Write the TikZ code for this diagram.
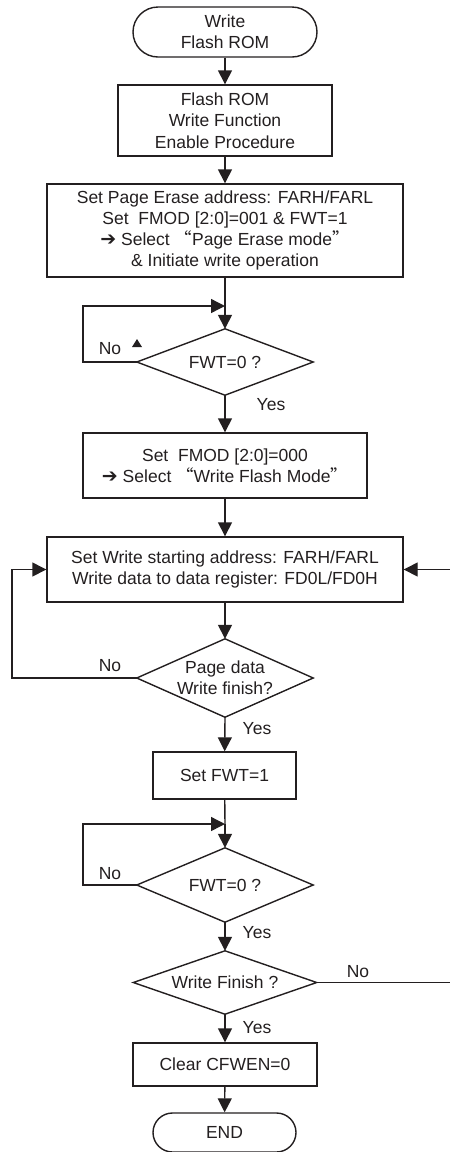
\documentclass[tikz,border=0pt]{standalone}
\usepackage{fontspec}
\setmainfont{Liberation Sans}
\newfontfamily\cjkq{Noto Sans CJK SC}
\newfontfamily\symb{DejaVu Sans}
\usetikzlibrary{arrows.meta}
\definecolor{ink}{HTML}{231F20}
\newcommand{\openq}{{\cjkq “}}
\newcommand{\closeq}{{\cjkq ”}}
\newcommand{\selarrow}{{\symb\fontsize{19}{19}\selectfont ➔}}
\begin{document}
\begin{tikzpicture}[x=1pt,y=-1pt,
  every node/.style={font=\fontsize{17.5}{21.3}\selectfont, text=ink, align=center, inner sep=0pt},
  line/.style={draw=ink, line width=1.4pt},
  arr/.style={line, -{Triangle[length=14pt,width=14pt]}},
  proc/.style={line, rectangle, minimum width=#1},
  term/.style={line, rectangle, rounded corners=#1, minimum height=2*#1},
  decision/.style={rectangle, minimum width=#1}]
\useasboundingbox (0,0) rectangle (450,1152);
\clip (0,0) rectangle (450,1152);

% flow steps
\node[term=25, minimum width=184] (start) at (225,32) {Write\\Flash ROM};
\node[proc=214, minimum height=71] (enable) at (225,120.5) {Flash ROM\\Write Function\\Enable Procedure};
\node[proc=356, minimum height=93] (erase) at (225,230.5)
  {Set Page Erase address: FARH/FARL\\Set\ \ FMOD [2:0]=001 \& FWT=1\\\selarrow\ Select\ \openq Page Erase mode\closeq\\\& Initiate write operation};
\node[decision=176, minimum height=66] (d1) at (225,362) {FWT=0 ?};
\node[proc=284, minimum height=65] (mode) at (225,465.5) {Set\ \ FMOD [2:0]=000\\\selarrow\ Select\ \openq Write Flash Mode\closeq};
\node[proc=356, minimum height=65] (data) at (225,569.5)
  {Set Write starting address: FARH/FARL\\Write data to data register: FD0L/FD0H};
\node[decision=176, minimum height=78] (d2) at (225,678) {Page data\\Write finish?};
\node[proc=143, minimum height=47] (fwt) at (224.5,775.5) {Set FWT=1};
\node[decision=176, minimum height=74] (d3) at (225,885) {FWT=0 ?};
\node[decision=183, minimum height=63] (d4) at (225,982.5) {Write Finish ?};
\node[proc=184, minimum height=43] (clr) at (225,1064.5) {Clear CFWEN=0};
\node[term=19.5, minimum width=143] (end) at (224.5,1132.5) {END};

% decision outlines
\foreach \n in {d1,d2,d3,d4}
  \draw[line, line join=miter] (\n.north) -- (\n.east) -- (\n.south) -- (\n.west) -- cycle;

% loop junctions
\coordinate (j1) at (225,306);
\coordinate (j3) at (225,824);

% connectors
\draw[arr] (start) -- (enable);
\draw[arr] (enable) -- (erase);
\draw[arr] (erase) -- (d1.north);
\draw[arr] (d1.west) -- ++(-54,0) |- (j1);
\draw[arr] (d1.south) -- (mode);
\draw[arr] (mode) -- (data);
\draw[arr] (data) -- (d2.north);
\draw[arr] (d2.west) -- ++(-125,0) |- (data.west);
\draw[arr] (d2.south) -- (fwt);
\draw[line] (fwt) -- (j3);
\draw[arr] (j3) -- (d3.north);
\draw[arr] (d3.west) -- ++(-54,0) |- (j3);
\draw[arr] (d3.south) -- (d4.north);
\draw[arr] (d4.east) -- ++(138,0) |- (data.east);
\draw[arr] (d4.south) -- (clr);
\draw[arr] (clr) -- (end);

% branch labels
\node (n1) at (110,349) {No};
\node (y1) at (271,405) {Yes};
\node (n2) at (110,666) {No};
\node (y2) at (257,729) {Yes};
\node (n3) at (110,874) {No};
\node (y3) at (257,933) {Yes};
\node (n4) at (358,972) {No};
\node (y4) at (257,1028) {Yes};

% small marker beside the first loop
\fill[ink] (132,347) -- (142,347) -- (137,339) -- cycle;
\end{tikzpicture}
\end{document}
